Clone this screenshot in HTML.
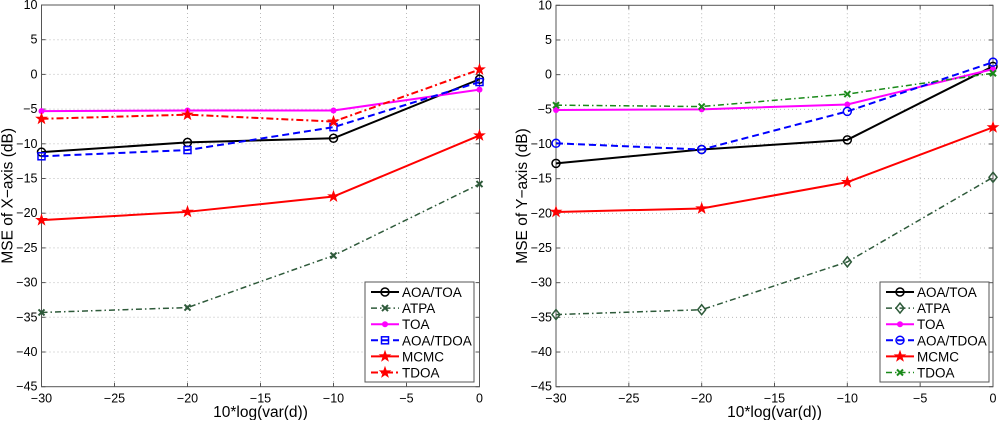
<!DOCTYPE html>
<html><head><meta charset="utf-8"><style>
body{margin:0;background:#fff;width:1000px;height:420px;overflow:hidden}
svg{font-family:"Liberation Sans",sans-serif}
</style></head><body>
<svg id="c" width="1000" height="420"></svg>
<script>
const xCats=[-30,-20,-10,0];
const xTicks=[-30,-25,-20,-15,-10,-5,0];
const yTicks=[10,5,0,-5,-10,-15,-20,-25,-30,-35,-40,-45];
const seriesNames=["AOA/TOA","ATPA","TOA","AOA/TDOA","MCMC","TDOA"];
const leftAoaToa=[-11.2,-9.8,-9.2,-0.7];
const leftAtpa=[-34.3,-33.6,-26.1,-15.8];
const leftToa=[-5.3,-5.2,-5.2,-2.2];
const leftAoaTdoa=[-11.8,-10.9,-7.6,-1.1];
const leftMcmc=[-21,-19.8,-17.6,-8.8];
const leftTdoa=[-6.4,-5.8,-6.8,0.7];
const rightAoaToa=[-12.8,-10.8,-9.4,1.2];
const rightAtpa=[-34.6,-33.9,-27,-14.8];
const rightToa=[-5.1,-5.0,-4.3,0.8];
const rightAoaTdoa=[-9.9,-10.8,-5.3,1.8];
const rightMcmc=[-19.8,-19.3,-15.5,-7.6];
const rightTdoa=[-4.4,-4.6,-2.8,0.2];

const NS="http://www.w3.org/2000/svg";
const svg=document.getElementById('c');
function mk(tag,attrs,parent){const e=document.createElementNS(NS,tag);for(const k in attrs)e.setAttribute(k,attrs[k]);(parent||svg).appendChild(e);return e;}
function star(g,x,y,r,col){let p=[];for(let i=0;i<10;i++){const a=-Math.PI/2+i*Math.PI/5;const rr=i%2?r*0.4:r;p.push((x+rr*Math.cos(a)).toFixed(1)+','+(y+rr*Math.sin(a)).toFixed(1));}const e=mk('polygon',{points:p.join(' '),fill:col,stroke:col,'stroke-width':0.8},g);return e;}
function marker(g,type,x,y,col){
  let e;
  if(type==='o')e=mk('circle',{cx:x,cy:y,r:4,fill:'none',stroke:col,'stroke-width':1.5},g);
  else if(type==='dot')e=mk('circle',{cx:x,cy:y,r:3,fill:col},g);
  else if(type==='s')e=mk('rect',{x:x-3.5,y:y-3.5,width:7,height:7,fill:'none',stroke:col,'stroke-width':1.5},g);
  else if(type==='x'){e=mk('path',{d:`M${x-3},${y-3}L${x+3},${y+3}M${x-3},${y+3}L${x+3},${y-3}`,stroke:col,'stroke-width':2},g);}
  else if(type==='d')e=mk('polygon',{points:`${x},${y-5} ${x+4},${y} ${x},${y+5} ${x-4},${y}`,fill:'none',stroke:col,'stroke-width':1.5},g);
  else if(type==='star')e=star(g,x,y,5.5,col);
  
  
}
function plot(x0,x1,y0,y1,ylabel,data,styles,lx,ly,pname){
  const g=mk('g',{});
  
  
  const sx=v=>x0+(v+30)/30*(x1-x0);
  const sy=v=>y0+(10-v)/55*(y1-y0);
  xTicks.forEach(t=>{
    const X=sx(t);
    if(t>-30&&t<0)mk('line',{x1:X,y1:y0,x2:X,y2:y1,stroke:'#bbb','stroke-dasharray':'1,3'},g);
    mk('line',{x1:X,y1:y1,x2:X,y2:y1-4,stroke:'#555'},g);
    mk('line',{x1:X,y1:y0,x2:X,y2:y0+4,stroke:'#555'},g);
    const tx=mk('text',{x:X,y:y1+16,'text-anchor':'middle','font-size':12.5},g);tx.textContent=(t<0?'\u2212'+(-t):t);
    
  });
  yTicks.forEach(t=>{
    const Y=sy(t);
    if(t<10&&t>-45)mk('line',{x1:x0,y1:Y,x2:x1,y2:Y,stroke:'#bbb','stroke-dasharray':'1,3'},g);
    mk('line',{x1:x0,y1:Y,x2:x0+4,y2:Y,stroke:'#555'},g);
    mk('line',{x1:x1,y1:Y,x2:x1-4,y2:Y,stroke:'#555'},g);
    const tx=mk('text',{x:x0-4,y:Y+4,'text-anchor':'end','font-size':12.5},g);tx.textContent=(t<0?'\u2212'+(-t):t);
    
  });
  mk('rect',{x:x0,y:y0,width:x1-x0,height:y1-y0,fill:'none',stroke:'#555'},g);
  const xl=mk('text',{x:(x0+x1)/2,y:417,'text-anchor':'middle','font-size':15.5},g);xl.textContent='10*log(var(d))';
  
  const yl=mk('text',{x:0,y:0,'text-anchor':'middle','font-size':15.5,transform:`translate(${x0-29},${(y0+y1)/2}) rotate(-90)`},g);yl.textContent=ylabel;
  
  data.forEach((vals,i)=>{
    const s=styles[i];
    const pts=vals.map((v,j)=>sx(xCats[j])+','+sy(v)).join(' ');
    const pl=mk('polyline',{points:pts,fill:'none',stroke:s.c,'stroke-width':s.w,'stroke-dasharray':s.dash},g);
    
    
    vals.forEach((v,j)=>marker(g,s.m,sx(xCats[j]),sy(v),s.c));
  });
  const lg=mk('g',{},g);
  
  
  mk('rect',{x:lx,y:ly,width:109,height:100,fill:'#fff',stroke:'#555'},lg);
  styles.forEach((s,i)=>{
    const Y=ly+10+i*16.1;
    mk('line',{x1:lx+6,y1:Y,x2:lx+34,y2:Y,stroke:s.c,'stroke-width':s.w,'stroke-dasharray':s.dash},lg);
    marker(lg,s.m,lx+20,Y,s.c);
    const t=mk('text',{x:lx+37,y:Y+5,'font-size':13.5},lg);t.textContent=seriesNames[i];
    
  });
}
const dg='#2e5a3a';
plot(41.5,479.5,5,386.7,'MSE of X\u2212axis (dB)',
 [leftAoaToa,leftAtpa,leftToa,leftAoaTdoa,leftMcmc,leftTdoa],
 [{c:'#000',w:2,dash:'none',m:'o'},{c:dg,w:1.5,dash:'6,3,1.5,3',m:'x'},{c:'#f0f',w:2,dash:'none',m:'dot'},{c:'#00f',w:2,dash:'7,4',m:'s'},{c:'#f00',w:2,dash:'none',m:'star'},{c:'#f00',w:2,dash:'7,3,2,3',m:'star'}],
 365,282,'left-chart');
plot(556,993,5.3,386.7,'MSE of Y\u2212axis (dB)',
 [rightAoaToa,rightAtpa,rightToa,rightAoaTdoa,rightMcmc,rightTdoa],
 [{c:'#000',w:2,dash:'none',m:'o'},{c:dg,w:1.5,dash:'6,3,1.5,3',m:'d'},{c:'#f0f',w:2,dash:'none',m:'dot'},{c:'#00f',w:2,dash:'7,4',m:'o'},{c:'#f00',w:2,dash:'none',m:'star'},{c:'#1a8a1a',w:1.5,dash:'6,3,1.5,3',m:'x'}],
 880,282,'right-chart');
</script>
</body></html>
